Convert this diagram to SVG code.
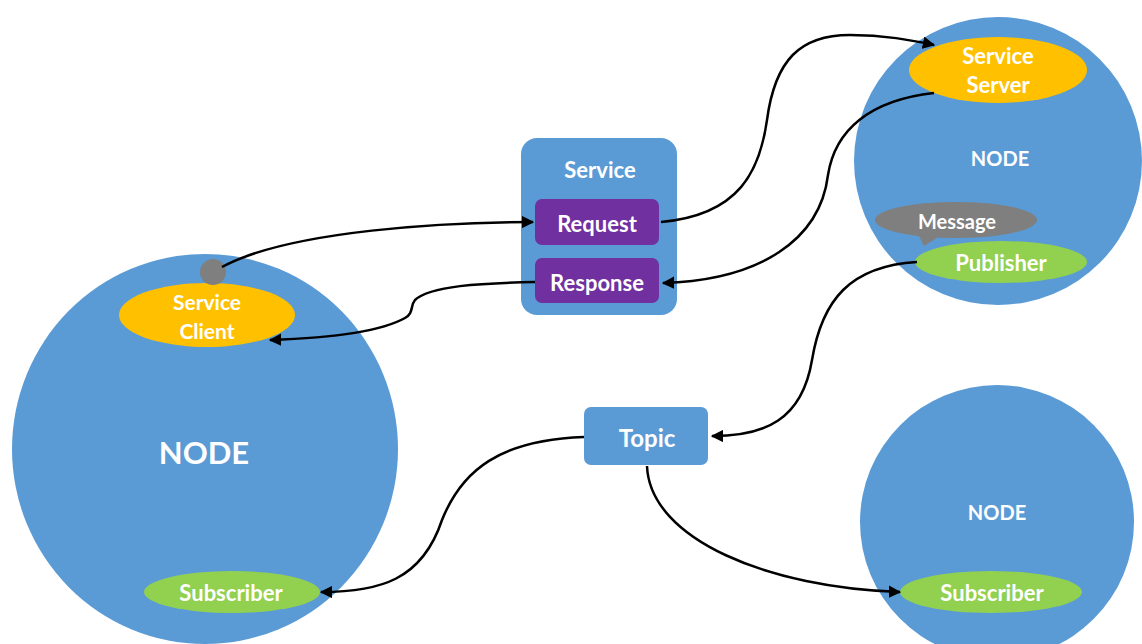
<svg xmlns="http://www.w3.org/2000/svg" width="1142" height="644" viewBox="0 0 1142 644">
<defs>
<marker id="arr" viewBox="0 0 10 10" refX="9" refY="5" markerWidth="5" markerHeight="5" orient="auto" markerUnits="strokeWidth">
<path d="M0,0 L10,5 L0,10 z" fill="#000"/>
</marker>
<style>
.node{fill:#5b9bd5}
.t{font-family:Lato,"Open Sans","Liberation Sans",sans-serif;font-weight:bold;fill:#fff;text-anchor:middle;dominant-baseline:central}
.orange{fill:#ffc000}
.green{fill:#92d050}
.gray{fill:#7f7f7f}
.purple{fill:#7030a0}
.c{fill:none;stroke:#000;stroke-width:2.5;marker-end:url(#arr)}
</style>
</defs>
<rect width="1142" height="644" fill="#fff"/>

<g id="node-left">
<ellipse class="node" cx="205" cy="449" rx="193" ry="195"/>
<text class="t" x="204" y="452" font-size="31">NODE</text>
</g>
<g id="service-client">
<ellipse class="orange" cx="207" cy="315" rx="88" ry="32"/>
<text class="t" x="207" y="301" font-size="21">Service</text>
<text class="t" x="207" y="330" font-size="21">Client</text>
</g>
<g id="client-port">
<circle class="gray" cx="213" cy="272" r="13"/>
</g>
<g id="subscriber-left">
<ellipse class="green" cx="232" cy="592" rx="88" ry="21"/>
<text class="t" x="231" y="592" font-size="22">Subscriber</text>
</g>

<g id="node-top-right">
<circle class="node" cx="998" cy="161" r="144"/>
<text class="t" x="1000" y="158" font-size="20">NODE</text>
</g>
<g id="service-server">
<ellipse class="orange" cx="998" cy="70" rx="89" ry="33"/>
<text class="t" x="998" y="55" font-size="22">Service</text>
<text class="t" x="998" y="84" font-size="22">Server</text>
</g>
<g id="message">
<path class="gray" d="M 918 234 L 924 246 L 940 236 z"/>
<ellipse class="gray" cx="956" cy="220" rx="81" ry="18"/>
<text class="t" x="957" y="221" font-size="20">Message</text>
</g>
<g id="publisher">
<ellipse class="green" cx="1001" cy="262" rx="86" ry="21"/>
<text class="t" x="1001" y="262" font-size="22">Publisher</text>
</g>

<g id="node-bottom-right">
<circle class="node" cx="997" cy="522" r="137"/>
<text class="t" x="997" y="512" font-size="20">NODE</text>
</g>
<g id="subscriber-right">
<ellipse class="green" cx="991" cy="592" rx="91" ry="21"/>
<text class="t" x="992" y="592" font-size="22">Subscriber</text>
</g>

<g id="service">
<rect class="node" x="521" y="138" width="156" height="177" rx="16"/>
<text class="t" x="600" y="169" font-size="22">Service</text>
</g>
<g id="request">
<rect class="purple" x="535" y="199" width="124" height="46" rx="7"/>
<text class="t" x="597" y="223" font-size="22">Request</text>
</g>
<g id="response">
<rect class="purple" x="535" y="258" width="124" height="45" rx="7"/>
<text class="t" x="597" y="282" font-size="22">Response</text>
</g>

<g id="topic">
<rect class="node" x="584" y="407" width="124" height="58" rx="7"/>
<text class="t" x="647" y="437" font-size="24">Topic</text>
</g>

<g id="connectors">
<path class="c" d="M 222 267 C 290 230 450 222 533 222"/>
<path class="c" d="M 661 222 C 740 215 760 170 767 120 C 775 60 800 35 850 35 C 885 35 910 40 934 45"/>
<path class="c" d="M 934 93 C 870 100 835 130 828 175 C 820 240 760 280 663 283"/>
<path class="c" d="M 535 282 C 480 283 430 286 415 300 C 410 306 414 313 405 318 C 380 332 330 338 270 340"/>
<path class="c" d="M 917 262 C 850 266 822 300 812 360 C 802 420 765 436 712 436"/>
<path class="c" d="M 584 437 C 500 440 462 470 442 520 C 422 580 380 592 321 592"/>
<path class="c" d="M 647 466 C 650 540 770 588 900 592"/>
</g>
</svg>
